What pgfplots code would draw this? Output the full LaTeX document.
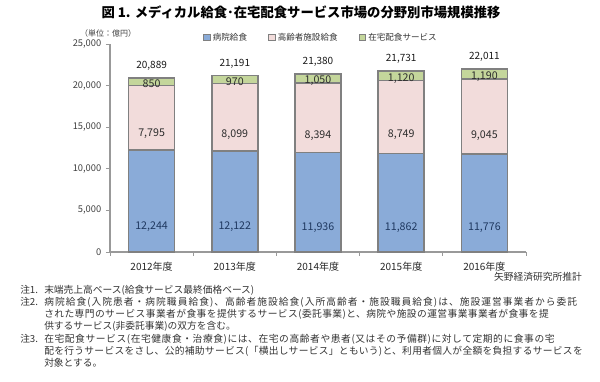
\documentclass[border=0pt]{standalone}
\usepackage{fontspec}
\setmainfont{Noto Sans CJK JP}
\usepackage{pgfplots}
\pgfplotsset{compat=1.18}
\definecolor{cblue}{RGB}{138,171,216}
\definecolor{cpink}{RGB}{242,220,219}
\definecolor{cgreen}{RGB}{196,214,155}
\definecolor{cedge}{RGB}{128,128,128}
\definecolor{cnavy}{RGB}{31,56,96}
\definecolor{ctext}{RGB}{45,45,45}
\newcommand\jline[2]{{\addfontfeatures{LetterSpace=#1}#2}}
\begin{document}
\begin{tikzpicture}[x=0.75pt,y=0.75pt]
\path[use as bounding box] (-110,-130) rectangle (490,252);
\begin{axis}[
 at={(0,0)}, anchor=south west, scale only axis, width=312pt, height=156pt,
 ybar stacked, bar width=34.5pt,
 xmin=-0.5, xmax=4.5, ymin=0, ymax=25000,
 axis lines*=left,
 axis line style={draw=black!40, line width=0.9pt},
 xtick={0,1,2,3,4},
 xticklabels={2012年度,2013年度,2014年度,2015年度,2016年度},
 major x tick style={draw=none},
 minor xtick={-0.5,0.5,1.5,2.5,3.5,4.5},
 minor x tick style={draw=black!40, line width=0.6pt},
 minor tick length=3pt,
 major tick length=3pt,
 tick align=outside,
 ytick={0,5000,10000,15000,20000,25000},
 ytick style={draw=black!40, line width=0.6pt},
 scaled y ticks=false,
 /pgf/number format/1000 sep={,},
 /pgf/number format/assume math mode=true,
 yticklabel style={font=\fontsize{7}{8}\selectfont, text=black!75},
 xticklabel style={font=\fontsize{7.5}{9}\selectfont, text=black!85, yshift=-1pt},
 clip=false,
 legend columns=3,
 legend style={at={(0.224,1.03)}, anchor=west, draw=none, fill=none, inner sep=0pt,
   font=\fontsize{6.4}{7}\selectfont, text=black!80,
   /tikz/every even column/.append style={column sep=14pt}},
 legend cell align=left,
 legend image code/.code={\draw[#1, line width=0.5pt, draw=black!50] (0pt,-2.3pt) rectangle (4.6pt,2.3pt);},
]
\addplot[fill=cblue, draw=cedge, line width=1.1pt,
  visualization depends on={rawy \as \rawy},
  nodes near coords={\pgfmathprintnumber{\rawy}},
  every node near coord/.append style={anchor=center, shift={(axis direction cs:0,-\rawy/4)}, text=cnavy, font=\fontsize{8}{9}\selectfont}]
  coordinates {(0,12244) (1,12122) (2,11936) (3,11862) (4,11776)};
\addlegendentry{病院給食}
\addplot[fill=cpink, draw=cedge, line width=1.1pt,
  visualization depends on={rawy \as \rawy},
  nodes near coords={\pgfmathprintnumber{\rawy}},
  every node near coord/.append style={anchor=center, shift={(axis direction cs:0,-\rawy/4)}, text=ctext, font=\fontsize{8}{9}\selectfont}]
  coordinates {(0,7795) (1,8099) (2,8394) (3,8749) (4,9045)};
\addlegendentry{高齢者施設給食}
\addplot[fill=cgreen, draw=cedge, line width=1.1pt,
  visualization depends on={rawy \as \rawy},
  nodes near coords={\pgfmathprintnumber{\rawy}},
  every node near coord/.append style={anchor=center, shift={(axis direction cs:0,-\rawy/4)}, text=ctext, font=\fontsize{8}{9}\selectfont}]
  coordinates {(0,850) (1,970) (2,1050) (3,1120) (4,1190)};
\addlegendentry{在宅配食サービス}
\end{axis}
\begin{axis}[
 at={(0,0)}, anchor=south west, scale only axis, width=312pt, height=156pt,
 ybar, bar width=34.5pt, hide axis, clip=false,
 xmin=-0.5, xmax=4.5, ymin=0, ymax=25000,
 /pgf/number format/1000 sep={,},
 /pgf/number format/assume math mode=true,
]
\addplot[draw=none, fill=none,
  nodes near coords,
  every node near coord/.append style={anchor=south, yshift=2pt, text=black!90, font=\fontsize{7.5}{9}\selectfont}]
  coordinates {(0,20889) (1,21191) (2,21380) (3,21731) (4,22011)};
\end{axis}
\node[font=\fontsize{10}{12}\selectfont\bfseries, text=black] at ({301-110},{252-12}) {図 1. メディカル給食･在宅配食サービス市場の分野別市場規模推移};
\node[font=\fontsize{6}{7}\selectfont, text=black!75] at ({108-110},{252-33}) {（単位：億円）};
\begin{scope}[every node/.style={font=\fontsize{7.3}{9}\selectfont, text=black!80, inner sep=0pt}]
\node[anchor=east] at ({582-110},{252-277}) {矢野経済研究所推計};
\node[anchor=west] at ({20-110},{252-290}) {注1.};
\node[anchor=west] at ({44-110},{252-290}) {末端売上高ベース(給食サービス最終価格ベース)};
\node[anchor=west] at ({20-110},{252-302}) {注2.};
\node[anchor=west] at ({44-110},{252-302}) {\jline{10.6}{病院給食(入院患者・病院職員給食)、高齢者施設給食(入所高齢者・施設職員給食)は、施設運営事業者から委託}};
\node[anchor=west] at ({44-110},{252-314}) {\jline{4.4}{された専門のサービス事業者が食事を提供するサービス(委託事業)と、病院や施設の運営事業事業者が食事を提}};
\node[anchor=west] at ({44-110},{252-326}) {供するサービス(非委託事業)の双方を含む。};
\node[anchor=west] at ({20-110},{252-339}) {注3.};
\node[anchor=west] at ({44-110},{252-339}) {\jline{6.1}{在宅配食サービス(在宅健康食・治療食)には、在宅の高齢者や患者(又はその予備群)に対して定期的に食事の宅}};
\node[anchor=west] at ({44-110},{252-351}) {\jline{3.2}{配を行うサービスをさし、公的補助サービス(「横出しサービス」ともいう)と、利用者個人が全額を負担するサービスを}};
\node[anchor=west] at ({44-110},{252-363}) {対象とする。};
\end{scope}
\end{tikzpicture}
\end{document}
